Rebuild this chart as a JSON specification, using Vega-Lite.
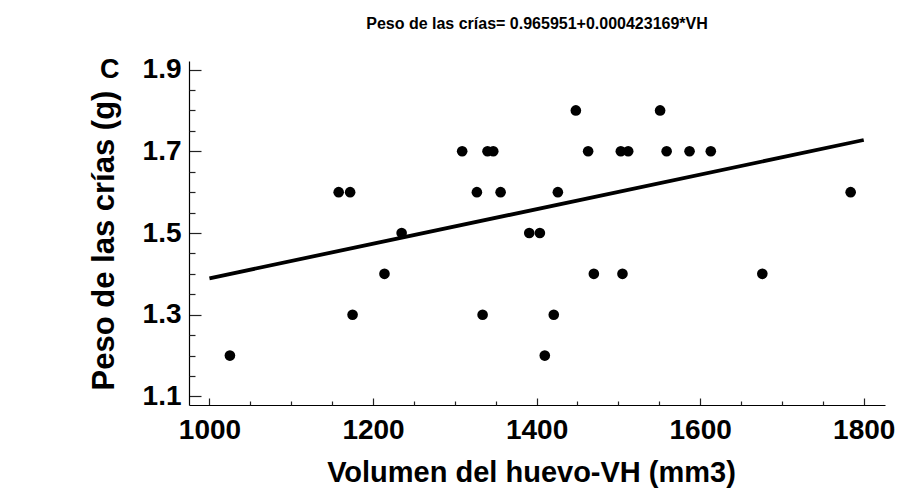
{
  "$schema": "https://vega.github.io/schema/vega-lite/v6.json",
  "width": 696,
  "height": 344,
  "autosize": "none",
  "padding": {"left": 189, "top": 61, "right": 15, "bottom": 91},
  "background": "white",
  "config": {"view": {"stroke": null}, "font": "Liberation Sans"},
  "title": {"text": "Peso de las crías= 0.965951+0.000423169*VH", "fontSize": 16, "fontWeight": "bold", "font": "Liberation Sans", "anchor": "middle", "frame": "group", "baseline": "alphabetic", "offset": 11, "color": "black"},
  "datasets": {
    "points": [
      {"vh": 1025, "peso": 1.2}, {"vh": 1410, "peso": 1.2},
      {"vh": 1175, "peso": 1.3}, {"vh": 1334, "peso": 1.3}, {"vh": 1421, "peso": 1.3},
      {"vh": 1214, "peso": 1.4}, {"vh": 1470, "peso": 1.4}, {"vh": 1505, "peso": 1.4}, {"vh": 1676, "peso": 1.4},
      {"vh": 1235, "peso": 1.5}, {"vh": 1391, "peso": 1.5}, {"vh": 1404, "peso": 1.5},
      {"vh": 1158, "peso": 1.6}, {"vh": 1172, "peso": 1.6}, {"vh": 1327, "peso": 1.6}, {"vh": 1356, "peso": 1.6}, {"vh": 1426, "peso": 1.6}, {"vh": 1784, "peso": 1.6},
      {"vh": 1309, "peso": 1.7}, {"vh": 1340, "peso": 1.7}, {"vh": 1347, "peso": 1.7}, {"vh": 1463, "peso": 1.7}, {"vh": 1503, "peso": 1.7}, {"vh": 1512, "peso": 1.7}, {"vh": 1559, "peso": 1.7}, {"vh": 1587, "peso": 1.7}, {"vh": 1613, "peso": 1.7},
      {"vh": 1448, "peso": 1.8}, {"vh": 1551, "peso": 1.8}
    ],
    "fit": [
      {"vh": 1000, "peso": 1.38912},
      {"vh": 1800, "peso": 1.727655}
    ],
    "panel": [{"label": "C", "vh": 878, "peso": 1.9}]
  },
  "resolve": {"axis": {"x": "independent", "y": "independent"}},
  "layer": [
    {
      "data": {"name": "fit"},
      "mark": {"type": "line", "color": "black", "strokeWidth": 3.8},
      "encoding": {
        "x": {
          "field": "vh", "type": "quantitative",
          "scale": {"domain": [975, 1826], "nice": false, "zero": false},
          "axis": {
            "orient": "bottom",
            "title": "Volumen del huevo-VH (mm3)",
            "values": [1000, 1200, 1400, 1600, 1800],
            "format": "d",
            "grid": false,
            "domainColor": "black", "domainWidth": 1.2,
            "tickColor": "#222", "tickWidth": 1.2, "tickSize": -7,
            "labelFontSize": 28, "labelFontWeight": "bold", "labelColor": "black", "labelFont": "Liberation Sans",
            "labelPadding": 18, "labelBaseline": "top", "labelFlush": false, "labelOverlap": false,
            "titleFontSize": 29, "titleFontWeight": "bold", "titleColor": "black", "titleFont": "Liberation Sans",
            "titleX": 342, "titleY": 76, "titleBaseline": "alphabetic", "titleAlign": "center"
          }
        },
        "y": {
          "field": "peso", "type": "quantitative",
          "scale": {"domain": [1.079, 1.921], "nice": false, "zero": false},
          "axis": {
            "orient": "left",
            "title": "Peso de las crías (g)",
            "values": [1.1, 1.3, 1.5, 1.7, 1.9],
            "format": ".1f",
            "grid": false,
            "domainColor": "black", "domainWidth": 1.2,
            "tickColor": "#222", "tickWidth": 1.2, "tickSize": -12,
            "labelFontSize": 28, "labelFontWeight": "bold", "labelColor": "black", "labelFont": "Liberation Sans",
            "labelPadding": 20, "labelBaseline": "middle", "labelFlush": false, "labelOverlap": false,
            "titleFontSize": 31, "titleFontWeight": "bold", "titleColor": "black", "titleFont": "Liberation Sans",
            "titleX": -76, "titleY": 179, "titleBaseline": "alphabetic", "titleAlign": "center", "titleAngle": 270
          }
        }
      }
    },
    {
      "data": {"name": "points"},
      "mark": {"type": "circle", "size": 113, "color": "black", "opacity": 1},
      "encoding": {
        "x": {
          "field": "vh", "type": "quantitative",
          "axis": {
            "orient": "bottom", "title": null, "labels": false, "domain": false, "grid": false,
            "values": [1050, 1100, 1150, 1250, 1300, 1350, 1450, 1500, 1550, 1650, 1700, 1750],
            "tickColor": "#222", "tickWidth": 1.2, "tickSize": -4
          }
        },
        "y": {
          "field": "peso", "type": "quantitative",
          "axis": {
            "orient": "left", "title": null, "labels": false, "domain": false, "grid": false,
            "values": [1.15, 1.2, 1.25, 1.35, 1.4, 1.45, 1.55, 1.6, 1.65, 1.75, 1.8, 1.85],
            "tickColor": "#222", "tickWidth": 1.2, "tickSize": -6
          }
        }
      }
    },
    {
      "data": {"name": "panel"},
      "mark": {"type": "text", "fontSize": 27, "fontWeight": "bold", "font": "Liberation Sans", "clip": false, "align": "center", "baseline": "middle", "color": "black"},
      "encoding": {
        "x": {"field": "vh", "type": "quantitative", "axis": null},
        "y": {"field": "peso", "type": "quantitative", "axis": null},
        "text": {"field": "label"}
      }
    }
  ]
}
